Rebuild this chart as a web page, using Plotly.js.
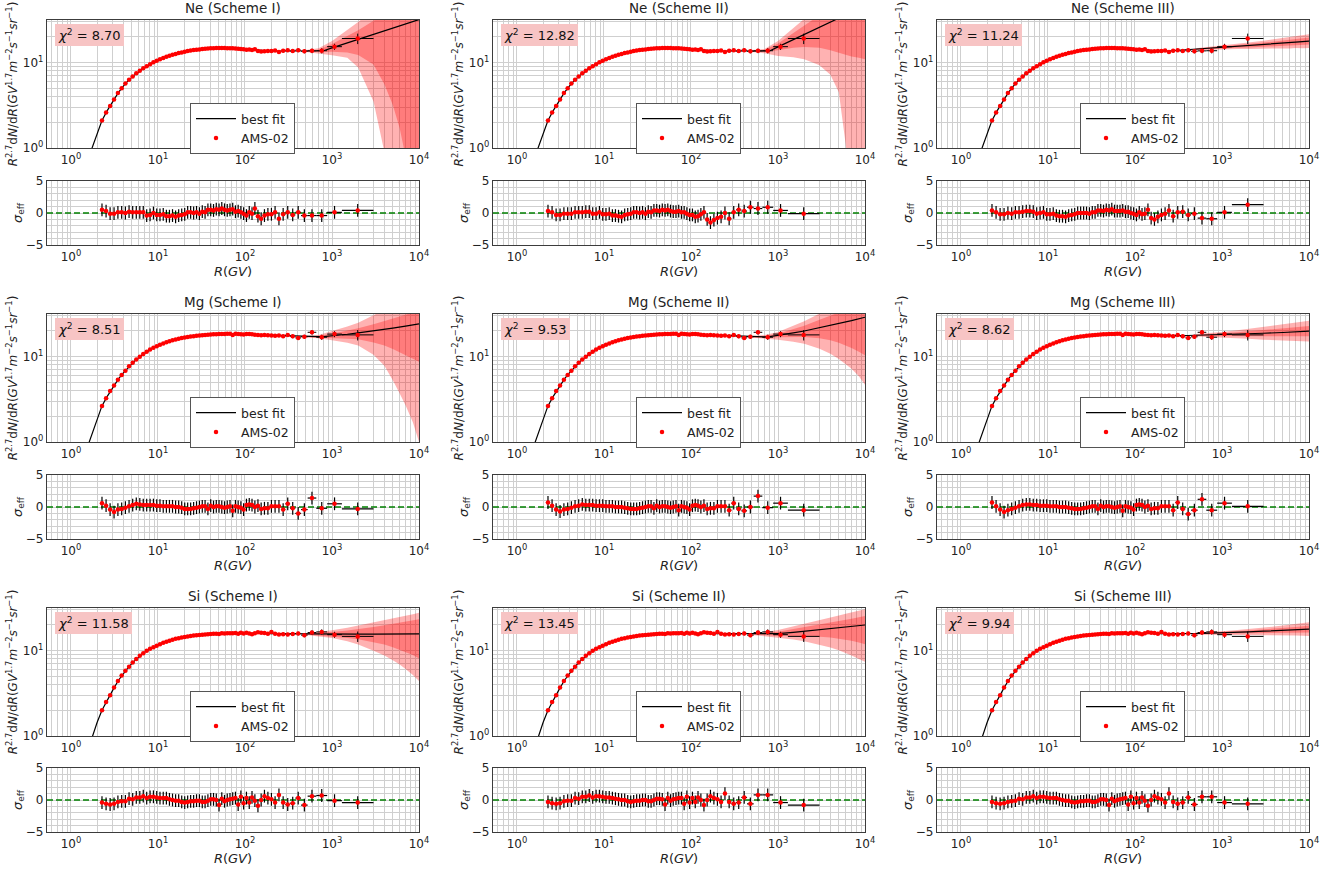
<!DOCTYPE html>
<html><head><meta charset="utf-8">
<script src="https://cdn.plot.ly/plotly-3.0.1.min.js"></script>
<style>html,body{margin:0;padding:0;background:#fff;}#chart{width:1333px;height:871px;}</style>
</head><body><div id="chart"></div>
<script>
// ---------------- DATA ----------------
const R_EDGES = [2.15, 2.40, 2.67, 2.97, 3.29, 3.64, 4.02, 4.43, 4.88, 5.37, 5.90, 6.47, 7.09, 7.76, 8.48, 9.26,
  10.1, 11.0, 12.0, 13.0, 14.1, 15.3, 16.6, 18.0, 19.5, 21.1, 22.8, 24.7, 26.7, 28.8, 31.1, 33.5, 36.1, 38.9, 41.9,
  45.1, 48.5, 52.2, 56.1, 60.3, 64.8, 69.7, 74.9, 80.5, 86.5, 93.0,
  100, 108, 116, 125, 135, 147, 160, 175, 192, 211, 233, 259, 291, 330, 379, 441, 525, 660, 880, 1300, 3000];

const NE_FLUX = [2.1, 2.6, 3.1, 3.7, 4.4, 5.0, 5.7, 6.3, 6.9, 7.5,
  8.05, 8.6, 9.05, 9.6, 10.1, 10.5, 10.95, 11.35, 11.7, 12.05,
  12.4, 12.65, 12.95, 13.2, 13.45, 13.7, 13.9, 14.05, 14.2, 14.3,
  14.45, 14.55, 14.7, 14.75, 14.8, 14.85, 14.85, 14.9, 14.85, 14.8,
  14.8, 14.8, 14.65, 14.6, 14.5, 14.4, 14.2, 14.25, 14.1, 14.4,
  13.7, 13.5, 13.6, 13.7, 13.7, 13.9, 13.3, 13.75, 13.95, 13.7,
  14.0, 13.6, 13.75, 13.8, 15.4, 19.2];
const MG_FLUX = [2.65, 3.25, 3.95, 4.6, 5.35, 6.1, 6.85, 7.7, 8.5, 9.25,
  10.0, 10.75, 11.45, 12.1, 12.7, 13.25, 13.8, 14.3, 14.75, 15.15,
  15.55, 15.9, 16.25, 16.55, 16.8, 17.0, 17.2, 17.4, 17.55, 17.7,
  17.85, 17.95, 18.05, 18.2, 18.25, 18.35, 18.4, 18.45, 18.45, 18.5,
  18.5, 18.0, 18.5, 18.4, 18.3, 18.15, 18.4, 18.4, 18.3, 18.1,
  17.9, 17.8, 18.0, 17.8, 17.7, 17.6, 17.7, 17.3, 17.9, 17.3,
  16.6, 17.1, 19.3, 16.9, 18.4, 18.0];
const SI_FLUX = [2.0, 2.5, 3.0, 3.7, 4.4, 5.1, 5.8, 6.5, 7.25, 8.0,
  8.7, 9.35, 9.95, 10.5, 11.0, 11.45, 11.9, 12.35, 12.75, 13.1,
  13.45, 13.75, 14.0, 14.25, 14.5, 14.7, 14.9, 15.05, 15.2, 15.3,
  15.4, 15.5, 15.6, 15.7, 15.75, 15.8, 15.65, 15.95, 15.9, 15.95,
  16.0, 16.05, 16.1, 15.75, 16.25, 15.85, 16.2, 15.9, 15.6, 16.0,
  16.4, 16.2, 16.1, 15.8, 16.5, 15.8, 15.5, 15.6, 15.5, 15.7,
  15.9, 15.2, 16.3, 16.6, 15.4, 14.7];
// relative flux uncertainty (%)
const REL_ERR = [3, 3, 3, 3, 3, 3, 3, 3, 3, 3,
  3, 3, 3, 3, 3, 3, 3, 3, 3, 3,
  3, 3, 3, 3, 3, 3, 3, 3, 3, 3,
  3, 3, 3, 3, 3, 3, 3, 3, 3, 3,
  3, 3, 3, 3, 3, 3, 3.5, 3.5, 3.5, 3.5,
  3.5, 3.5, 3.5, 4, 4, 4, 4, 4.5, 4.5, 5,
  5, 5.5, 6, 7, 8, 14];

// best-fit curves
const MODEL_R_LOW = [1.5, 1.75, 2.0, 2.27, 2.6, 3.0, 3.5, 4.0, 4.6, 5.3, 6.2, 7.2, 8.4, 10, 12, 14.5, 17.5, 21, 26, 32, 40, 50, 62, 77, 95, 120, 150, 190, 240];
const NE_FIT_LOW = [0.65, 1.0, 1.5, 2.1, 2.72, 3.45, 4.45, 5.3, 6.25, 7.1, 8.05, 8.9, 9.8, 10.7, 11.55, 12.3, 13.0, 13.55, 14.07, 14.45, 14.75, 14.85, 14.85, 14.7, 14.45, 14.2, 13.9, 13.75, 13.7];
const MG_FIT_LOW = [0.8, 1.25, 1.85, 2.65, 3.4, 4.35, 5.45, 6.45, 7.6, 8.75, 10.05, 11.2, 12.3, 13.45, 14.5, 15.5, 16.3, 16.9, 17.4, 17.85, 18.15, 18.4, 18.5, 18.45, 18.3, 18.1, 17.9, 17.75, 17.6];
const SI_FIT_LOW = [0.6, 0.96, 1.45, 2.0, 2.63, 3.4, 4.47, 5.4, 6.45, 7.5, 8.7, 9.75, 10.7, 11.6, 12.55, 13.4, 14.05, 14.6, 15.1, 15.4, 15.7, 15.8, 15.95, 16.0, 16.0, 15.95, 15.9, 15.85, 15.8];
const MODEL_R_HIGH = [300, 400, 500, 600, 700, 800, 1000, 1500, 2000, 3000, 5000, 7000, 10000];
const NE_I_FIT = [13.7, 13.7, 13.7, 13.7, 13.7, 13.8, 14.9, 17.0, 18.8, 21.5, 25.5, 28.5, 32];
const NE_II_FIT = [13.7, 13.7, 13.7, 13.7, 13.7, 13.7, 15.3, 18.6, 21.2, 25.8, 33, 39, 46.5];
const NE_III_FIT = [13.9, 14.2, 14.4, 14.6, 14.75, 14.85, 15.1, 15.5, 15.8, 16.3, 16.9, 17.4, 17.9];
const MG_I_FIT = [17.4, 17.25, 17.2, 17.15, 17.15, 17.2, 17.5, 18.3, 19.0, 20.0, 21.6, 22.8, 24.2];
const MG_II_FIT = [17.4, 17.2, 17.1, 17.05, 17.05, 17.2, 17.7, 19.0, 20.0, 21.8, 24.5, 26.5, 29.0];
const MG_III_FIT = [17.6, 17.7, 17.8, 17.85, 17.9, 17.95, 18.05, 18.3, 18.5, 18.8, 19.2, 19.5, 19.9];
const SI_I_FIT = [15.75, 15.7, 15.65, 15.6, 15.6, 15.6, 15.6, 15.6, 15.6, 15.65, 15.7, 15.7, 15.7];
const SI_II_FIT = [15.75, 15.7, 15.65, 15.6, 15.6, 15.65, 15.8, 16.4, 16.9, 17.6, 18.6, 19.3, 20.0];
const SI_III_FIT = [15.8, 15.85, 15.9, 15.95, 16.0, 16.05, 16.1, 16.4, 16.6, 16.9, 17.3, 17.6, 17.9];

// uncertainty bands (2 sigma lower, 1 sigma lower, 1 sigma upper, 2 sigma upper)
const BAND_R = [500, 700, 1000, 1500, 2000, 3000, 4000, 5000, 6000, 7000, 8500, 10000];
const NE_I_2LO = [13.3, 12.8, 12.2, 11.4, 8.8, 3.5, 0.9, 0.05, 0.01, 0.01, 0.01, 0.01];
const NE_I_1LO = [13.5, 13.3, 13.4, 13.2, 12.3, 9.5, 5.6, 3.2, 1.7, 0.8, 0.05, 0.01];
const NE_I_1HI = [13.9, 14.2, 16.5, 20.5, 24, 31, 37, 43, 48, 54, 62, 70];
const NE_I_2HI = [14.1, 14.8, 18, 24, 30, 42, 55, 67, 80, 92, 115, 140];
const NE_II_2LO = [13.3, 12.9, 12.0, 11.6, 11.0, 9.3, 7.2, 4.5, 1.1, 0.05, 0.01, 0.01];
const NE_II_1LO = [13.5, 13.4, 14.0, 15.0, 15.3, 15.0, 14.0, 13.0, 12.3, 11.8, 11.4, 11.0];
const NE_II_1HI = [13.9, 14.1, 16.8, 22, 27, 36, 44, 52, 60, 68, 80, 95];
const NE_II_2HI = [14.1, 14.5, 18, 25, 32, 46, 60, 75, 90, 105, 130, 160];
const NE_III_2LO = [14.0, 14.2, 14.4, 14.5, 14.5, 14.7, 14.7, 14.7, 14.7, 14.9, 14.8, 14.9];
const NE_III_1LO = [14.2, 14.5, 14.7, 15.0, 15.1, 15.5, 15.6, 15.8, 15.9, 16.0, 16.1, 16.3];
const NE_III_1HI = [14.6, 15.0, 15.5, 16.0, 16.5, 17.2, 17.7, 18.1, 18.4, 18.9, 19.3, 19.7];
const NE_III_2HI = [14.8, 15.3, 15.9, 16.6, 17.2, 18.1, 18.8, 19.4, 19.8, 20.4, 21.0, 21.5];
const MG_I_2LO = [16.8, 16.4, 15.6, 14.6, 13.5, 10.5, 7.8, 5.3, 3.7, 2.7, 1.7, 1.0];
const MG_I_1LO = [17.0, 16.8, 16.6, 16.4, 16.0, 14.7, 13.5, 12.3, 11.2, 10.3, 9.4, 8.7];
const MG_I_1HI = [17.4, 17.6, 18.6, 20.3, 21.5, 24.0, 26, 28, 29.5, 31, 33, 35];
const MG_I_2HI = [17.6, 18.0, 20.0, 22.5, 25, 31, 36, 40, 44, 47, 52, 56];
const MG_II_2LO = [16.7, 16.3, 15.8, 15.0, 14.2, 12.4, 10.8, 9.4, 8.2, 7.2, 5.9, 4.7];
const MG_II_1LO = [16.9, 16.7, 16.9, 17.1, 17.0, 16.4, 15.6, 14.6, 13.6, 12.6, 11.4, 10.4];
const MG_II_1HI = [17.3, 17.5, 18.6, 21.0, 23, 27, 30, 33, 36, 38, 42, 45];
const MG_II_2HI = [17.5, 17.9, 19.5, 23, 26, 32, 37, 42, 46, 50, 56, 62];
const MG_III_2LO = [17.2, 17.0, 16.7, 16.4, 16.2, 15.8, 15.6, 15.4, 15.3, 15.2, 15.1, 15.1];
const MG_III_1LO = [17.5, 17.45, 17.4, 17.35, 17.3, 17.2, 17.2, 17.2, 17.2, 17.2, 17.2, 17.3];
const MG_III_1HI = [18.1, 18.35, 18.75, 19.3, 19.8, 20.5, 21.0, 21.4, 21.8, 22.1, 22.5, 22.9];
const MG_III_2HI = [18.4, 18.8, 19.5, 20.4, 21.2, 22.4, 23.2, 23.9, 24.5, 25.0, 25.7, 26.3];
const SI_I_2LO = [15.3, 14.8, 14.1, 12.9, 11.8, 10.0, 8.8, 7.7, 6.9, 6.1, 5.2, 4.4];
const SI_I_1LO = [15.45, 15.1, 14.7, 14.1, 13.6, 12.6, 11.8, 11.0, 10.3, 9.7, 8.9, 8.1];
const SI_I_1HI = [15.85, 16.1, 16.5, 17.2, 17.8, 18.9, 19.8, 20.6, 21.4, 22.0, 22.8, 23.4];
const SI_I_2HI = [16.0, 16.5, 17.3, 18.6, 19.7, 21.3, 22.6, 23.7, 24.7, 25.6, 26.8, 27.9];
const SI_II_2LO = [15.3, 14.8, 14.3, 13.5, 12.9, 11.8, 10.9, 10.1, 9.4, 8.8, 8.0, 7.4];
const SI_II_1LO = [15.45, 15.15, 15.0, 14.9, 14.9, 14.6, 14.3, 13.9, 13.5, 13.1, 12.5, 11.9];
const SI_II_1HI = [15.85, 16.1, 16.7, 17.9, 18.8, 20.2, 21.3, 22.2, 23.0, 23.7, 24.7, 25.5];
const SI_II_2HI = [16.0, 16.5, 17.5, 19.2, 20.6, 22.7, 24.4, 25.8, 27.0, 28.0, 29.4, 30.5];
const SI_III_2LO = [15.4, 15.4, 15.3, 15.4, 15.4, 15.4, 15.2, 15.2, 15.2, 15.1, 15.0, 14.9];
const SI_III_1LO = [15.65, 15.7, 15.7, 15.85, 15.95, 16.1, 16.1, 16.15, 16.2, 16.2, 16.2, 16.3];
const SI_III_1HI = [16.15, 16.3, 16.5, 16.95, 17.25, 17.7, 18.1, 18.5, 18.75, 19.0, 19.35, 19.7];
const SI_III_2HI = [16.4, 16.6, 16.9, 17.5, 17.9, 18.6, 19.2, 19.7, 20.1, 20.5, 21.0, 21.5];

// residuals sigma_eff
const NE_I_RES = [0.5, 0.3, -0.1, -0.1, 0.1, 0.1, 0.0, 0.2, 0.1, 0.1,
  0.1, 0.1, -0.4, -0.3, 0.0, -0.3, -0.3, -0.2, -0.5, -0.5,
  -0.4, -0.6, -0.4, -0.3, -0.2, 0.1, 0.1, 0.0, 0.1, -0.1,
  0.2, 0.1, 0.5, 0.5, 0.4, 0.6, 0.5, 0.7, 0.5, 0.4,
  0.5, 0.6, 0.2, 0.3, 0.1, -0.1, -0.4, 0.1, -0.1, 0.7,
  -0.5, -0.9, -0.4, -0.2, -0.2, 0.1, -0.9, -0.2, 0.1, -0.3,
  0.1, -0.4, -0.4, -0.4, 0.1, 0.4];
const NE_II_RES = [0.3, 0.1, -0.3, -0.3, -0.1, -0.1, -0.1, 0.1, 0.1, 0.1,
  0.2, 0.2, -0.1, -0.1, 0.1, -0.2, -0.2, -0.1, -0.4, -0.4,
  -0.5, -0.6, -0.3, -0.2, -0.1, 0.1, 0.1, 0.0, 0.1, -0.1,
  0.2, 0.1, 0.4, 0.4, 0.3, 0.5, 0.4, 0.5, 0.3, 0.2,
  0.2, 0.3, 0.1, 0.1, -0.1, -0.3, -0.3, -0.6, -0.5, -0.2,
  0.1, -1.0, -1.5, -1.1, -0.8, -0.6, 0.0, -0.9, 0.1, 0.5,
  0.3, 0.9, 0.7, 0.9, 0.4, -0.1];
const NE_III_RES = [0.4, 0.1, -0.2, -0.2, 0.0, -0.1, 0.1, 0.1, 0.2, 0.3,
  0.3, 0.2, -0.1, 0.0, 0.1, -0.2, -0.2, -0.1, -0.4, -0.5,
  -0.5, -0.6, -0.4, -0.3, -0.2, 0.0, 0.0, 0.0, 0.0, -0.1,
  0.1, 0.1, 0.4, 0.4, 0.3, 0.5, 0.4, 0.6, 0.3, 0.3,
  0.3, 0.4, 0.2, 0.2, 0.0, -0.1, -0.3, 0.1, -0.2, -0.1,
  0.5, -0.8, -1.0, -0.6, -0.3, -0.1, 0.4, -0.5, 0.1, 0.2,
  -0.3, -0.1, -0.8, -0.9, 0.1, 1.3];
const MG_I_RES = [0.6, 0.2, -0.4, -0.8, -0.4, -0.3, -0.1, 0.1, 0.3, 0.5,
  0.4, 0.3, 0.3, 0.3, 0.3, 0.2, 0.2, 0.1, 0.1, 0.1,
  0.1, 0.0, 0.0, -0.1, -0.3, -0.3, -0.3, -0.2, -0.1, 0.0,
  0.1, 0.1, -0.3, 0.2, 0.0, 0.1, 0.1, 0.0, -0.1, 0.0,
  0.1, -0.6, 0.1, 0.0, -0.1, -0.4, 0.3, 0.4, 0.3, 0.0,
  0.2, -0.3, -0.2, -0.2, 0.1, 0.1, 0.1, -0.4, 0.5, -0.2,
  -1.0, -0.4, 1.4, -0.2, 0.5, -0.3];
const MG_II_RES = [0.7, 0.2, -0.4, -0.7, -0.4, -0.3, -0.1, 0.1, 0.2, 0.4,
  0.3, 0.3, 0.3, 0.2, 0.2, 0.2, 0.1, 0.1, 0.1, 0.0,
  0.0, 0.0, -0.1, -0.2, -0.3, -0.3, -0.3, -0.2, -0.1, 0.0,
  0.1, 0.1, -0.2, 0.2, 0.0, 0.1, 0.1, 0.0, -0.1, 0.0,
  0.1, -0.5, 0.1, 0.0, -0.1, -0.4, 0.2, 0.3, 0.2, 0.0,
  0.2, -0.3, -0.2, -0.2, 0.1, 0.1, 0.1, -0.5, 0.6, -0.3,
  -0.6, 0.0, 1.7, -0.1, 0.6, -0.5];
const MG_III_RES = [0.7, 0.1, -0.4, -0.8, -0.5, -0.3, -0.1, 0.1, 0.3, 0.4,
  0.4, 0.3, 0.3, 0.2, 0.2, 0.2, 0.1, 0.1, 0.1, 0.0,
  0.0, 0.0, -0.1, -0.2, -0.3, -0.3, -0.3, -0.2, -0.1, 0.0,
  0.1, 0.1, -0.3, 0.2, 0.0, 0.1, 0.1, 0.0, -0.1, 0.0,
  0.1, -0.6, 0.1, 0.0, -0.1, -0.4, 0.3, 0.4, 0.3, 0.0,
  0.2, -0.3, -0.2, -0.2, 0.1, 0.1, 0.1, -0.5, 0.7, -0.3,
  -1.1, -0.5, 1.2, -0.5, 0.6, 0.1];
const SI_I_RES = [-0.4, -0.6, -0.7, -0.6, -0.3, -0.2, -0.2, 0.2, 0.1, 0.4,
  0.4, 0.6, 0.3, 0.5, 0.5, 0.4, 0.3, 0.3, 0.3, 0.1,
  0.0, -0.1, -0.1, -0.3, -0.4, -0.3, -0.2, -0.2, -0.1, -0.1,
  -0.3, -0.3, -0.1, 0.1, 0.1, 0.0, -0.8, 0.2, -0.2, 0.0,
  0.1, 0.2, 0.3, -0.7, 0.5, -0.5, 0.3, -0.4, 0.4, -0.1,
  -0.9, 0.0, 0.6, 0.3, 0.1, -0.4, 0.8, -0.4, -0.7, -0.5,
  0.3, -0.8, 0.6, 0.7, -0.1, -0.4];
const SI_II_RES = [-0.3, -0.5, -0.6, -0.5, -0.2, -0.1, -0.1, 0.3, 0.2, 0.5,
  0.5, 0.7, 0.4, 0.6, 0.6, 0.5, 0.4, 0.4, 0.3, 0.2,
  0.1, 0.0, 0.0, -0.2, -0.3, -0.2, -0.1, -0.1, 0.0, 0.0,
  -0.2, -0.2, 0.0, 0.2, 0.2, 0.1, -0.7, 0.3, -0.1, 0.1,
  0.2, 0.3, 0.3, -0.6, 0.5, -0.4, 0.3, -0.3, 0.4, 0.0,
  -0.8, 0.0, 0.6, 0.3, 0.1, -0.3, 1.0, -0.3, -0.6, -0.4,
  0.4, -0.6, 0.8, 0.8, -0.4, -0.8];
const SI_III_RES = [-0.3, -0.5, -0.6, -0.5, -0.3, -0.2, -0.1, 0.2, 0.1, 0.4,
  0.4, 0.6, 0.3, 0.5, 0.5, 0.4, 0.3, 0.3, 0.3, 0.1,
  0.0, -0.1, -0.1, -0.3, -0.4, -0.3, -0.2, -0.2, -0.1, -0.1,
  -0.3, -0.3, -0.1, 0.1, 0.1, 0.0, -0.8, 0.2, -0.2, 0.0,
  0.1, 0.2, 0.3, -0.7, 0.5, -0.5, 0.3, -0.4, 0.4, -0.1,
  -0.9, 0.0, 0.6, 0.3, 0.1, -0.4, 1.0, -0.3, -0.6, -0.4,
  0.4, -0.7, 0.5, 0.5, -0.4, -0.6];

const ELEMENTS = ['Ne', 'Mg', 'Si'];
const SCHEMES = ['I', 'II', 'III'];
const CHI2 = [['8.70', '12.82', '11.24'], ['8.51', '9.53', '8.62'], ['11.58', '13.45', '9.94']];
const X_LIMITS = [0.53, 10000];
const ZERO_LINE = [0, 0];

const PANELS = [
  {flux: NE_FLUX, low: NE_FIT_LOW, high: NE_I_FIT, b: [NE_I_2LO, NE_I_2HI, NE_I_1LO, NE_I_1HI], res: NE_I_RES},
  {flux: NE_FLUX, low: NE_FIT_LOW, high: NE_II_FIT, b: [NE_II_2LO, NE_II_2HI, NE_II_1LO, NE_II_1HI], res: NE_II_RES},
  {flux: NE_FLUX, low: NE_FIT_LOW, high: NE_III_FIT, b: [NE_III_2LO, NE_III_2HI, NE_III_1LO, NE_III_1HI], res: NE_III_RES},
  {flux: MG_FLUX, low: MG_FIT_LOW, high: MG_I_FIT, b: [MG_I_2LO, MG_I_2HI, MG_I_1LO, MG_I_1HI], res: MG_I_RES},
  {flux: MG_FLUX, low: MG_FIT_LOW, high: MG_II_FIT, b: [MG_II_2LO, MG_II_2HI, MG_II_1LO, MG_II_1HI], res: MG_II_RES},
  {flux: MG_FLUX, low: MG_FIT_LOW, high: MG_III_FIT, b: [MG_III_2LO, MG_III_2HI, MG_III_1LO, MG_III_1HI], res: MG_III_RES},
  {flux: SI_FLUX, low: SI_FIT_LOW, high: SI_I_FIT, b: [SI_I_2LO, SI_I_2HI, SI_I_1LO, SI_I_1HI], res: SI_I_RES},
  {flux: SI_FLUX, low: SI_FIT_LOW, high: SI_II_FIT, b: [SI_II_2LO, SI_II_2HI, SI_II_1LO, SI_II_1HI], res: SI_II_RES},
  {flux: SI_FLUX, low: SI_FIT_LOW, high: SI_III_FIT, b: [SI_III_2LO, SI_III_2HI, SI_III_1LO, SI_III_1HI], res: SI_III_RES}
];

// ---------------- LAYOUT GEOMETRY ----------------
const W = 1333, H = 871;
const COL_LEFT = [47, 493, 937], PW = 372;
const MAIN_TOP = [20, 314, 608], MAIN_H = 128;
const RES_TOP = [181, 475, 768], RES_H = 64;
const FONT = 'DejaVu Sans, Arial, sans-serif';
const GRID = '#cfcfcf';
const FRAME = '#3c3c3c';

const R_LO = R_EDGES.slice(0, -1), R_HI = R_EDGES.slice(1);
const R_C = R_LO.map((lo, i) => Math.sqrt(lo * R_HI[i]));
const EX_PLUS = R_C.map((c, i) => R_HI[i] - c);
const EX_MINUS = R_C.map((c, i) => c - R_LO[i]);

const sup = n => '10<sup>' + n + '</sup>';
const X_TICKS = [1, 10, 100, 1000, 10000];
const X_MINOR = [];
[0.1, 1, 10, 100, 1000].forEach(d => { for (let k = 2; k <= 9; k++) { const v = d * k; if (v > 0.53 && v < 10000) X_MINOR.push(v); } });
const Y_MINOR = [2, 3, 4, 5, 6, 7, 8, 9, 20, 30];
const RES_MINOR = [-4, -3, -2, -1, 1, 2, 3, 4];

const traces = [];
const layout = {
  width: W, height: H, margin: {l: 0, r: 0, t: 0, b: 0},
  paper_bgcolor: 'white', plot_bgcolor: 'white',
  font: {family: FONT, size: 12, color: '#222'},
  showlegend: true, annotations: []
};

const axBase = {
  showline: true, mirror: true, linecolor: FRAME, linewidth: 1.2,
  showgrid: true, gridcolor: GRID, gridwidth: 1, zeroline: false, ticks: '',
  tickfont: {family: FONT, size: 12, color: '#222'}
};

PANELS.forEach((P, p) => {
  const r = Math.floor(p / 3), c = p % 3;
  const nMain = 2 * p + 1, nRes = 2 * p + 2;
  const xm = nMain === 1 ? 'x' : 'x' + nMain, ym = nMain === 1 ? 'y' : 'y' + nMain;
  const xr = 'x' + nRes, yr = 'y' + nRes;
  const legName = p === 0 ? 'legend' : 'legend' + (p + 1);
  const left = COL_LEFT[c];
  const xd = [left / W, (left + PW) / W];
  const mainDom = [1 - (MAIN_TOP[r] + MAIN_H) / H, 1 - MAIN_TOP[r] / H];
  const resDom = [1 - (RES_TOP[r] + RES_H) / H, 1 - RES_TOP[r] / H];

  const xAxis = Object.assign({}, axBase, {
    type: 'log', range: [Math.log10(X_LIMITS[0]), Math.log10(X_LIMITS[1])], domain: xd,
    tickvals: X_TICKS, ticktext: X_TICKS.map((v, i) => sup(i)),
    minor: {tickvals: X_MINOR, showgrid: true, gridcolor: GRID, gridwidth: 1, ticks: ''}
  });
  layout['xaxis' + (nMain === 1 ? '' : nMain)] = Object.assign({}, xAxis, {anchor: ym});
  layout['xaxis' + nRes] = Object.assign({}, xAxis, {anchor: yr,
    title: {text: '<i>R</i>(<i>GV</i>)', font: {family: FONT, size: 13, color: '#222'}, standoff: 2}});
  layout['yaxis' + (nMain === 1 ? '' : nMain)] = Object.assign({}, axBase, {
    type: 'log', range: [0, 1.5], domain: mainDom, anchor: xm,
    tickvals: [1, 10], ticktext: [sup(0), sup(1)],
    minor: {tickvals: Y_MINOR, showgrid: true, gridcolor: GRID, gridwidth: 1, ticks: ''},
    title: {text: '<i>R</i><sup>2.7</sup>d<i>N</i>/d<i>R</i>(<i>GV</i><sup>1.7</sup><i>m</i><sup>\u22122</sup><i>s</i><sup>\u22121</sup><i>sr</i><sup>\u22121</sup>)',
      font: {family: FONT, size: 12, color: '#222'}, standoff: 2}
  });
  layout['yaxis' + nRes] = Object.assign({}, axBase, {
    range: [-5, 5], domain: resDom, anchor: xr,
    tickvals: [-5, 0, 5], ticktext: ['\u22125', '0', '5'],
    minor: {tickvals: RES_MINOR, showgrid: true, gridcolor: GRID, gridwidth: 1, ticks: ''},
    title: {text: '<i>\u03c3</i><sub>eff</sub>', font: {family: FONT, size: 13, color: '#222'}, standoff: 0}
  });

  // bands
  const bandFill = 'rgba(255,0,0,0.3)';
  for (let k = 0; k < 2; k++) {
    traces.push({x: BAND_R, y: P.b[2 * k], xaxis: xm, yaxis: ym, mode: 'lines', line: {width: 0, color: bandFill},
      showlegend: false, hoverinfo: 'skip', legend: legName});
    traces.push({x: BAND_R, y: P.b[2 * k + 1], xaxis: xm, yaxis: ym, mode: 'lines', line: {width: 0, color: bandFill},
      fill: 'tonexty', fillcolor: bandFill, showlegend: false, hoverinfo: 'skip', legend: legName});
  }
  // best fit
  traces.push({x: MODEL_R_LOW.concat(MODEL_R_HIGH), y: P.low.concat(P.high), xaxis: xm, yaxis: ym,
    mode: 'lines', line: {color: 'black', width: 1.2}, name: 'best fit', legend: legName, showlegend: true});
  // AMS-02 data
  traces.push({x: R_C, y: P.flux, xaxis: xm, yaxis: ym, mode: 'markers', name: 'AMS-02', legend: legName, showlegend: true,
    marker: {color: 'red', size: 4.5},
    error_y: {type: 'data', array: P.flux.map((f, i) => f * REL_ERR[i] / 100), color: 'black', thickness: 1, width: 0},
    error_x: {type: 'data', array: EX_PLUS, arrayminus: EX_MINUS, color: 'black', thickness: 1, width: 0}});
  // zero reference line in residual panel
  traces.push({x: X_LIMITS, y: ZERO_LINE, xaxis: xr, yaxis: yr, mode: 'lines', showlegend: false, legend: legName,
    hoverinfo: 'skip', line: {color: '#008000', width: 1.4, dash: '6px,3px'}});
  // residuals
  traces.push({x: R_C, y: P.res, xaxis: xr, yaxis: yr, mode: 'markers', showlegend: false, legend: legName,
    marker: {color: 'red', size: 4.5},
    error_y: {type: 'constant', value: 1, color: 'black', thickness: 1.2, width: 0},
    error_x: {type: 'data', array: EX_PLUS, arrayminus: EX_MINUS, color: 'black', thickness: 1.2, width: 0}});

  layout[legName] = {x: (left + 143) / W, y: 1 - (MAIN_TOP[r] + 83) / H, xanchor: 'left', yanchor: 'top',
    bgcolor: 'white', bordercolor: '#555', borderwidth: 1, font: {family: FONT, size: 12.5, color: '#222'},
    traceorder: 'normal', tracegroupgap: 2, itemwidth: 40};

  layout.annotations.push({xref: 'paper', yref: 'paper', x: (left + PW / 2) / W, y: 1 - (MAIN_TOP[r] - 2) / H,
    xanchor: 'center', yanchor: 'bottom', showarrow: false,
    text: ELEMENTS[r] + ' (Scheme ' + SCHEMES[c] + ')', font: {family: FONT, size: 13.5, color: '#222'}});
  layout.annotations.push({xref: xm + ' domain', yref: ym + ' domain', x: 0.022, y: 0.965, xanchor: 'left', yanchor: 'top',
    showarrow: false, text: '<i>\u03c7</i><sup>2</sup> = ' + CHI2[r][c], bgcolor: '#f7c4c4', bordercolor: '#f7c4c4',
    borderpad: 2, font: {family: FONT, size: 13, color: '#111'}});
});

Plotly.newPlot('chart', traces, layout, {staticPlot: true});
</script></body></html>
